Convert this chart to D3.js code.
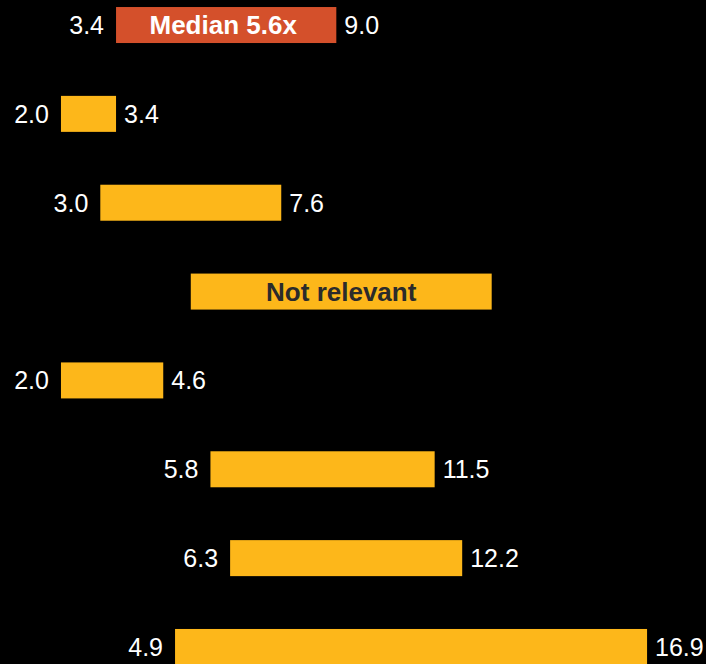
<!DOCTYPE html>
<html>
<head>
<meta charset="utf-8">
<script src="https://cdn.jsdelivr.net/npm/d3@7"></script>
<style>
  html, body { margin: 0; padding: 0; background: #000; }
  svg { display: block; }
</style>
</head>
<body>
<svg id="chart" width="706" height="664"></svg>
<script>
// Rows, top to bottom
const categories = ["Median", "Group A", "Group B", "Group C", "Group D", "Group E", "Group F", "Group G"];
// Low / high multiples for each row (null where the range does not apply)
const lows  = [3.4, 2.0, 3.0, null, 2.0, 5.8, 6.3, 4.9];
const highs = [9.0, 3.4, 7.6, null, 4.6, 11.5, 12.2, 16.9];
// Row kinds: the summary row, a placeholder row and ordinary ranges
const kinds = ["median", "range", "range", "na", "range", "range", "range", "range"];
const medianMultiple = 5.6;
const placeholderSpan = [5.3, 12.95];
const placeholderText = "Not relevant";

const rows = categories.map((c, i) => {
  const isNA = kinds[i] === "na";
  return {
    cat: c,
    kind: kinds[i],
    lo: isNA ? placeholderSpan[0] : lows[i],
    hi: isNA ? placeholderSpan[1] : highs[i]
  };
});

const colors = { median: "#d4502b", range: "#fdb71a", na: "#fdb71a" };

const svg = d3.select("#chart");

const x = d3.scaleLinear().domain([0, 17]).range([-17.7, 651]);
const y = d3.scaleBand()
  .domain(categories)
  .range([-19.4, 691.4])
  .paddingInner(0.5948)
  .paddingOuter(0.2974);

const g = svg.append("g");

// Range bars
g.selectAll("rect.bar")
  .data(rows)
  .join("rect")
  .attr("class", "bar")
  .attr("x", d => x(d.lo))
  .attr("y", d => y(d.cat))
  .attr("width", d => x(d.hi) - x(d.lo))
  .attr("height", y.bandwidth())
  .attr("fill", d => colors[d.kind]);

const font = "'Liberation Sans', Arial, Helvetica, sans-serif";
const valueRows = rows.filter(d => d.kind !== "na");

// Low value, left of each bar
g.selectAll("text.lo")
  .data(valueRows)
  .join("text")
  .attr("class", "lo")
  .attr("x", d => x(d.lo) - 12)
  .attr("y", d => y(d.cat) + y.bandwidth() / 2)
  .attr("dy", "0.36em")
  .attr("text-anchor", "end")
  .attr("font-family", font)
  .attr("font-size", 25)
  .attr("fill", "#fff")
  .text(d => d3.format(".1f")(d.lo));

// High value, right of each bar
g.selectAll("text.hi")
  .data(valueRows)
  .join("text")
  .attr("class", "hi")
  .attr("x", d => x(d.hi) + 8)
  .attr("y", d => y(d.cat) + y.bandwidth() / 2)
  .attr("dy", "0.36em")
  .attr("text-anchor", "start")
  .attr("font-family", font)
  .attr("font-size", 25)
  .attr("fill", "#fff")
  .text(d => d3.format(".1f")(d.hi));

// Labels inside the summary and placeholder bars
const inner = rows.filter(d => d.kind !== "range");
g.selectAll("text.inner")
  .data(inner)
  .join("text")
  .attr("class", "inner")
  .attr("x", d => (x(d.lo) + x(d.hi)) / 2 - (d.kind === "median" ? 3 : 0))
  .attr("y", d => y(d.cat) + y.bandwidth() / 2)
  .attr("dy", "0.36em")
  .attr("text-anchor", "middle")
  .attr("font-family", font)
  .attr("font-size", 26)
  .attr("font-weight", "bold")
  .attr("fill", d => d.kind === "median" ? "#fff" : "#2b2b2b")
  .text(d => d.kind === "median" ? `Median ${d3.format(".1f")(medianMultiple)}x` : placeholderText);
</script>
</body>
</html>
